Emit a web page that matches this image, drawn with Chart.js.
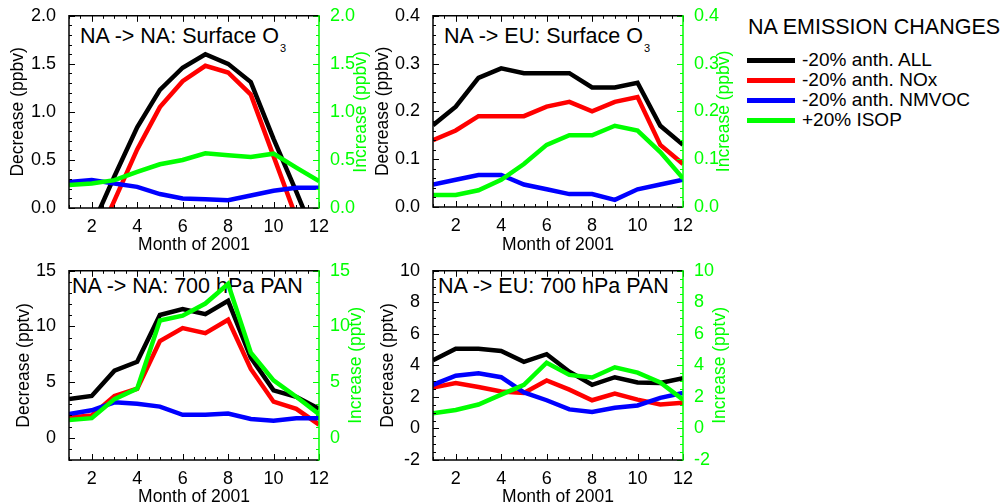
<!DOCTYPE html>
<html>
<head>
<meta charset="utf-8">
<script src="https://cdn.jsdelivr.net/npm/chart.js@4.4.1/dist/chart.umd.min.js"></script>
<style>
  body { margin: 0; background: #fff; font-family: "Liberation Sans", Arial, sans-serif; }
  #wrap { position: relative; width: 1003px; height: 504px; overflow: hidden; }
  canvas { position: absolute; }
  .ptitle { position: absolute; font-size: 21.5px; line-height: 20px; white-space: nowrap; color: #000; }
  .ptitle .sub { font-size: 11px; position: relative; top: 9px; margin-left: 1px; }
  #legend { position: absolute; left: 747px; top: 17px; color: #000; }
  #legend .lt { font-size: 21.5px; line-height: 21px; margin-left: 1px; white-space: nowrap; }
  #legend .rows { margin-top: 12px; }
  #legend .row { height: 20px; line-height: 20px; font-size: 19px; white-space: nowrap; display: flex; align-items: center; }
  #legend .sw { display: inline-block; width: 48px; height: 5px; margin-right: 7px; }
</style>
</head>
<body>
<div id="wrap">
  <div class="ptitle" style="left:80px;top:26px">NA -&gt; NA: Surface O<span class="sub">3</span></div>
  <div class="ptitle" style="left:444px;top:26px">NA -&gt; EU: Surface O<span class="sub">3</span></div>
  <div class="ptitle" style="left:72px;top:276px">NA -&gt; NA: 700 hPa PAN</div>
  <div class="ptitle" style="left:438px;top:276px">NA -&gt; EU: 700 hPa PAN</div>
  <canvas id="p1"></canvas>
  <canvas id="p2"></canvas>
  <canvas id="p3"></canvas>
  <canvas id="p4"></canvas>
  <div id="legend">
    <div class="lt">NA EMISSION CHANGES</div>
    <div class="rows" id="rows"></div>
  </div>
</div>
<script>
const months = [1, 2, 3, 4, 5, 6, 7, 8, 9, 10, 11, 12];
const xTicks = [2, 4, 6, 8, 10, 12];
const seriesNames = ["-20% anth. ALL", "-20% anth. NOx", "-20% anth. NMVOC", "+20% ISOP"];
const colors = ["#000000", "#ff0000", "#0000ff", "#00ff00"];

// NA -> NA surface O3 (ppbv)
const naNaO3All = [-0.7, -0.2, 0.33, 0.84, 1.23, 1.46, 1.6, 1.5, 1.31, 0.72, 0.17, -0.4];
const naNaO3Nox = [-1.0, -0.45, 0.08, 0.61, 1.05, 1.32, 1.48, 1.41, 1.18, 0.54, -0.1, -0.7];
const naNaO3Voc = [0.27, 0.29, 0.255, 0.22, 0.145, 0.1, 0.09, 0.08, 0.13, 0.18, 0.21, 0.21];
const naNaO3Isop = [0.24, 0.255, 0.29, 0.375, 0.455, 0.5, 0.57, 0.55, 0.53, 0.565, 0.42, 0.28];
const o3NaTicks = [0, 0.5, 1, 1.5, 2];

// NA -> EU surface O3 (ppbv)
const naEuO3All = [0.171, 0.21, 0.27, 0.29, 0.28, 0.28, 0.28, 0.25, 0.25, 0.26, 0.17, 0.13];
const naEuO3Nox = [0.14, 0.16, 0.19, 0.19, 0.19, 0.21, 0.22, 0.2, 0.22, 0.23, 0.13, 0.09];
const naEuO3Voc = [0.047, 0.057, 0.067, 0.067, 0.047, 0.037, 0.027, 0.027, 0.015, 0.037, 0.047, 0.057];
const naEuO3Isop = [0.025, 0.025, 0.035, 0.057, 0.09, 0.13, 0.15, 0.15, 0.17, 0.16, 0.115, 0.06];
const o3EuTicks = [0, 0.1, 0.2, 0.3, 0.4];

// NA -> NA 700 hPa PAN (pptv)
const naNaPanAll = [3.47, 3.76, 6.03, 6.82, 11.03, 11.56, 11.1, 12.3, 7.2, 4.26, 3.68, 2.6];
const naNaPanNox = [1.82, 2.0, 3.76, 4.4, 8.68, 9.85, 9.4, 10.6, 6.18, 3.24, 2.6, 1.18];
const naNaPanVoc = [2.12, 2.47, 3.18, 3.06, 2.8, 2.06, 2.06, 2.18, 1.68, 1.53, 1.76, 1.76];
const naNaPanIsop = [1.59, 1.76, 3.47, 4.41, 10.53, 10.97, 12.06, 13.82, 7.65, 5.15, 3.68, 2.12];
const panNaTicks = [0, 5, 10, 15];

// NA -> EU 700 hPa PAN (pptv)
const naEuPanAll = [4.33, 5.06, 5.06, 4.92, 4.23, 4.71, 3.6, 2.77, 3.25, 2.92, 2.88, 3.19];
const naEuPanNox = [2.6, 2.88, 2.63, 2.35, 2.25, 3.04, 2.46, 1.79, 2.21, 1.83, 1.52, 1.63];
const naEuPanVoc = [2.77, 3.35, 3.5, 3.25, 2.29, 1.79, 1.21, 1.04, 1.31, 1.46, 1.94, 2.25];
const naEuPanIsop = [0.96, 1.17, 1.52, 2.15, 2.77, 4.17, 3.4, 3.23, 3.88, 3.54, 2.92, 1.83];
const panEuTicks = [-2, 0, 2, 4, 6, 8, 10];

Chart.defaults.font.family = '"Liberation Sans", Arial, sans-serif';
Chart.defaults.font.size = 18;
Chart.defaults.color = "#000";

const green = "#00ff00";

// IDL style box: inward major/minor ticks, green right axis, right title reading upward
const idlFrame = {
  id: "idlFrame",
  afterDatasetsDraw(chart, args, opts) {
    const { ctx, chartArea: a, scales } = chart;
    const xs = scales.x, ys = scales.y;
    ctx.save();
    ctx.lineWidth = 1;

    ctx.strokeStyle = "#000";
    ctx.beginPath();
    const nx = Math.round((xs.max - xs.min) / 0.5);
    for (let i = 0; i <= nx; i++) {
      const v = xs.min + i * 0.5;
      const px = Math.round(xs.getPixelForValue(v)) + 0.5;
      const len = xTicks.includes(v) ? 6 : 3;
      ctx.moveTo(px, a.bottom); ctx.lineTo(px, a.bottom - len);
      ctx.moveTo(px, a.top); ctx.lineTo(px, a.top + len);
    }
    const ny = Math.round((ys.max - ys.min) / opts.minor);
    const yMarks = [];
    for (let i = 0; i <= ny; i++) {
      const v = ys.min + i * opts.minor;
      const major = opts.major.some(m => Math.abs(m - v) < 1e-6);
      yMarks.push([Math.round(ys.getPixelForValue(v)) + 0.5, major ? 6 : 3]);
    }
    yMarks.forEach(([py, len]) => { ctx.moveTo(a.left, py); ctx.lineTo(a.left + len, py); });
    ctx.stroke();

    ctx.strokeStyle = green;
    ctx.beginPath();
    yMarks.forEach(([py, len]) => { ctx.moveTo(a.right, py); ctx.lineTo(a.right - len, py); });
    ctx.stroke();

    ctx.lineWidth = 1.5;
    ctx.strokeStyle = "#000";
    ctx.beginPath();
    ctx.moveTo(a.right, a.top); ctx.lineTo(a.left, a.top);
    ctx.lineTo(a.left, a.bottom); ctx.lineTo(a.right, a.bottom);
    ctx.stroke();
    ctx.strokeStyle = green;
    ctx.beginPath();
    ctx.moveTo(a.right, a.top - 0.75); ctx.lineTo(a.right, a.bottom + 0.75);
    ctx.stroke();

    ctx.translate(opts.rightTitleX, (a.top + a.bottom) / 2);
    ctx.rotate(-Math.PI / 2);
    ctx.fillStyle = green;
    ctx.font = '17.5px "Liberation Sans", Arial, sans-serif';
    ctx.textAlign = "center";
    ctx.textBaseline = "middle";
    ctx.fillText(opts.rightTitle, 0, 0);
    ctx.restore();
  }
};

function makePanel(id, box, area, yMin, yMax, yTicks, minor, digits, unit, leftPad, bottomPad, rightTitleX, series) {
  const canvas = document.getElementById(id);
  canvas.width = box.w;
  canvas.height = box.h;
  canvas.style.left = box.x + "px";
  canvas.style.top = box.y + "px";
  const fmt = v => Number(v).toFixed(digits);

  new Chart(canvas, {
    type: "line",
    data: {
      datasets: series.map((s, i) => ({
        label: seriesNames[i],
        data: months.map((m, j) => ({ x: m, y: s[j] })),
        borderColor: colors[i],
        borderWidth: 4.5,
        pointRadius: 0,
        tension: 0,
        fill: false,
        clip: 0,
        order: 4 - i,
        yAxisID: i === 3 ? "y2" : "y",
      })),
    },
    options: {
      responsive: false,
      animation: false,
      devicePixelRatio: 1,
      layout: { padding: { top: area.t - box.y, left: 0, right: 0, bottom: 0 } },
      plugins: {
        legend: { display: false },
        tooltip: { enabled: false },
        idlFrame: { minor: minor, major: yTicks, rightTitle: "Increase (" + unit + ")", rightTitleX: rightTitleX - box.x },
      },
      scales: {
        x: {
          type: "linear",
          min: 1,
          max: 12,
          grid: { display: false },
          border: { display: false },
          ticks: { padding: 0, autoSkip: false, maxRotation: 0 },
          afterBuildTicks: s => { s.ticks = xTicks.map(v => ({ value: v })); },
          afterFit: s => { s.height = box.y + box.h - area.b; },
          title: { display: true, text: "Month of 2001", font: { size: 17.5 }, padding: { top: 0, bottom: bottomPad } },
        },
        y: {
          position: "left",
          min: yMin,
          max: yMax,
          grid: { display: false },
          border: { display: false },
          ticks: { padding: 5, callback: fmt },
          afterBuildTicks: s => { s.ticks = yTicks.map(v => ({ value: v })); },
          afterFit: s => { s.width = area.l - box.x; },
          title: { display: true, text: "Decrease (" + unit + ")", font: { size: 17.5 }, padding: { top: leftPad, bottom: 0 } },
        },
        y2: {
          position: "right",
          min: yMin,
          max: yMax,
          grid: { display: false },
          border: { display: false },
          ticks: { padding: 3, color: green, callback: fmt },
          afterBuildTicks: s => { s.ticks = yTicks.map(v => ({ value: v })); },
          afterFit: s => { s.width = box.x + box.w - area.r; },
        },
      },
    },
    plugins: [idlFrame],
  });
}

makePanel("p1", { x: 0, y: 0, w: 372, h: 255 }, { l: 69, r: 319, t: 15, b: 208 },
  0, 2, o3NaTicks, 0.1, 1, "ppbv", 8, -1, 361, [naNaO3All, naNaO3Nox, naNaO3Voc, naNaO3Isop]);
makePanel("p2", { x: 372, y: 0, w: 368, h: 255 }, { l: 433, r: 683, t: 15, b: 207 },
  0, 0.4, o3EuTicks, 0.02, 1, "ppbv", 1, -1, 724, [naEuO3All, naEuO3Nox, naEuO3Voc, naEuO3Isop]);
makePanel("p3", { x: 0, y: 255, w: 372, h: 249 }, { l: 69, r: 319, t: 268, b: 460 },
  -2, 15, panNaTicks, 1, 0, "pptv", 14, -4, 356, [naNaPanAll, naNaPanNox, naNaPanVoc, naNaPanIsop]);
makePanel("p4", { x: 372, y: 255, w: 368, h: 249 }, { l: 433, r: 683, t: 268, b: 460 },
  -2, 10, panEuTicks, 0.5, 0, "pptv", 6, -4, 720, [naEuPanAll, naEuPanNox, naEuPanVoc, naEuPanIsop]);

const rows = document.getElementById("rows");
seriesNames.forEach((name, i) => {
  const row = document.createElement("div");
  row.className = "row";
  const sw = document.createElement("span");
  sw.className = "sw";
  sw.style.background = colors[i];
  row.appendChild(sw);
  row.appendChild(document.createTextNode(name));
  rows.appendChild(row);
});
</script>
</body>
</html>
